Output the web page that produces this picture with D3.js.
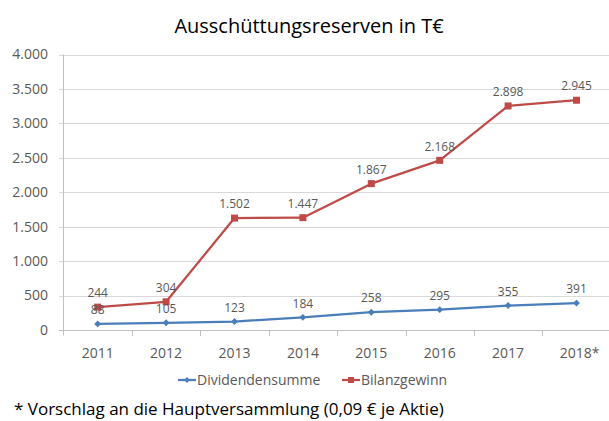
<!DOCTYPE html>
<html><head><meta charset="utf-8">
<script src="https://cdn.jsdelivr.net/npm/d3@7"></script>
<style>
html,body{margin:0;padding:0;background:#fff;}
svg{display:block;font-family:"Open Sans",sans-serif;}
</style></head>
<body><svg id="c" width="609" height="421"></svg>
<script>
const years = ["2011","2012","2013","2014","2015","2016","2017","2018*"];
const dividendensumme = [88,105,123,184,258,295,355,391];
const bilanzgewinn = [244,304,1502,1447,1867,2168,2898,2945];
const yTicks = [0,500,1000,1500,2000,2500,3000,3500,4000];
const seriesNames = ["Dividendensumme","Bilanzgewinn"];
const colors = ["#4A7EBB","#BE4B48"];

(function(){
const svg = d3.select("#c");
const pLeft = 63.5, pRight = 610.7, pTop = 54.5, pBottom = 330;
const x = d3.scaleBand().domain(years).range([pLeft, pRight]);
const y = d3.scaleLinear().domain([0,4000]).range([pBottom, pTop]);
const fmt = d3.formatLocale({decimal:",",thousands:".",grouping:[3],currency:["","€"]}).format(",");

// gridlines
svg.append("g").selectAll("line").data(yTicks).join("line")
  .attr("x1", pLeft-4.5).attr("x2", 609)
  .attr("y1", d=>Math.round(y(d))+0.5).attr("y2", d=>Math.round(y(d))+0.5)
  .attr("stroke", d=> d===0 ? "#BFBFBF" : "#D9D9D9").attr("stroke-width",1);

// y axis line
svg.append("line").attr("x1",pLeft).attr("x2",pLeft).attr("y1",pTop).attr("y2",pBottom+5.5)
  .attr("stroke","#BFBFBF");
// x category ticks
svg.append("g").selectAll("line").data(years.slice(1)).join("line")
  .attr("x1", d=>Math.round(x(d))+0.5).attr("x2", d=>Math.round(x(d))+0.5)
  .attr("y1", pBottom).attr("y2", pBottom+6)
  .attr("stroke","#BFBFBF");

// y labels
svg.append("g").selectAll("text").data(yTicks).join("text")
  .attr("x", 48).attr("y", d=>y(d)).attr("dy","0.35em")
  .attr("text-anchor","end").attr("font-size","14px").attr("fill","#595959")
  .text(d=>fmt(d));

// x labels
svg.append("g").selectAll("text").data(years).join("text")
  .attr("x", d=>x(d)+x.bandwidth()/2 + (d.endsWith("*")?3:0)).attr("y", 358)
  .attr("text-anchor","middle").attr("font-size","14px").attr("fill","#595959")
  .text(d=>d);

// title
svg.append("text").attr("x",309).attr("y",33).attr("text-anchor","middle")
  .attr("font-size","20px").attr("fill","#000").text("Ausschüttungsreserven in T€");

// stacked values
const stackedRed = bilanzgewinn.map((v,i)=>v+dividendensumme[i]);
const cx = d=>x(d)+x.bandwidth()/2;
const line = d3.line().x(d=>cx(d.year)).y(d=>y(d.v));

const blueData = years.map((yr,i)=>({year:yr, v:dividendensumme[i], label:dividendensumme[i]}));
const redData = years.map((yr,i)=>({year:yr, v:stackedRed[i], label:bilanzgewinn[i]}));

function drawSeries(data, color, marker){
  svg.append("path").datum(data).attr("d", line).attr("fill","none")
    .attr("stroke",color).attr("stroke-width",2.25).attr("stroke-linejoin","round");
  const g = svg.append("g");
  if(marker==="square"){
    g.selectAll("rect").data(data).join("rect")
      .attr("x",d=>cx(d.year)-3.5).attr("y",d=>y(d.v)-3.5).attr("width",7).attr("height",7)
      .attr("fill",color);
  } else {
    g.selectAll("path").data(data).join("path")
      .attr("d", d3.symbol(d3.symbolDiamond2, 30))
      .attr("transform", d=>`translate(${cx(d.year)},${y(d.v)})`)
      .attr("fill",color);
  }
}
drawSeries(blueData, colors[0], "diamond");
drawSeries(redData, colors[1], "square");

function drawLabels(data){
  svg.append("g").selectAll("text").data(data).join("text")
    .attr("x", d=>cx(d.year)).attr("y", d=>y(d.v)-14).attr("dy","0.35em")
    .attr("text-anchor","middle").attr("font-size","12px").attr("fill","#595959")
    .text(d=>fmt(d.label));
}
drawLabels(blueData);
drawLabels(redData);

// legend
const legend = [{name:seriesNames[0], color:colors[0], lx:178, tx:197, m:"diamond"},
                {name:seriesNames[1], color:colors[1], lx:342, tx:361, m:"square"}];
const lg = svg.append("g");
legend.forEach(l=>{
  lg.append("line").attr("x1",l.lx).attr("x2",l.lx+18).attr("y1",380).attr("y2",380)
    .attr("stroke",l.color).attr("stroke-width",2.25);
  if(l.m==="square") lg.append("rect").attr("x",l.lx+9-3).attr("y",377).attr("width",6).attr("height",6).attr("fill",l.color);
  else lg.append("path").attr("d",d3.symbol(d3.symbolDiamond2,22)).attr("transform",`translate(${l.lx+9},380)`).attr("fill",l.color);
  lg.append("text").attr("x",l.tx).attr("y",380).attr("dy","0.35em").attr("font-size","14px")
    .attr("fill","#595959").text(l.name);
});

// footnote
svg.append("text").attr("x",14).attr("y",415).attr("font-size","17px").attr("fill","#000")
  .text("* Vorschlag an die Hauptversammlung (0,09 € je Aktie)");
})();
</script></body></html>
